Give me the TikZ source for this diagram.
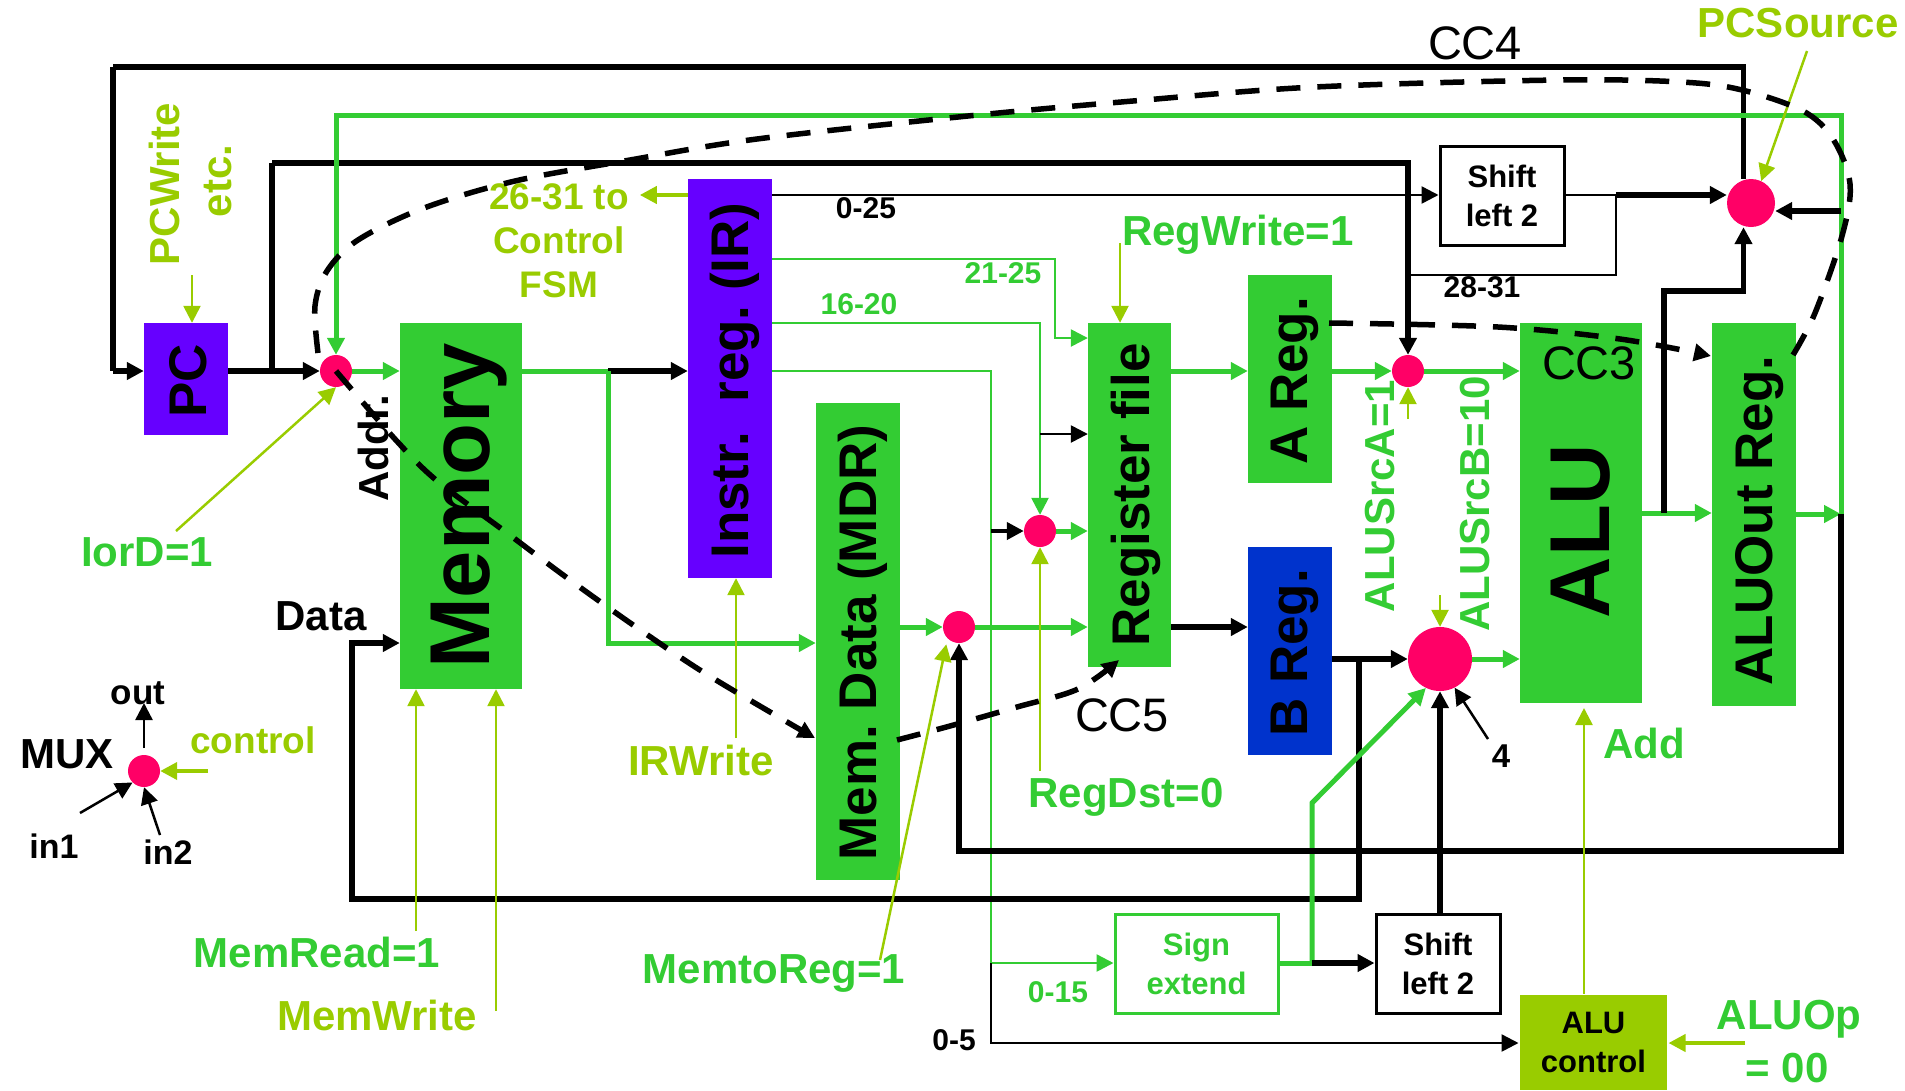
\documentclass[tikz,border=0pt]{standalone}
\usepackage{fontspec}
\setmainfont{Liberation Sans}
\usepackage{xcolor}
\usepackage{graphicx}
\usepackage{tikz}
\usetikzlibrary{arrows.meta}

\definecolor{dpgreen}{HTML}{33CC33}
\definecolor{dplime}{HTML}{99CC00}
\definecolor{dppurple}{HTML}{6600FF}
\definecolor{dpblue}{HTML}{0033CC}
\definecolor{dppink}{HTML}{FF0066}

\newcommand{\vtext}[3]{\kern#1pt\rotatebox{90}{#3\kern#2pt}}

\tikzset{
    box/.style={rectangle, inner sep=0pt, font=\bfseries\fontsize{53}{53}\selectfont},
    bigbox/.style={box, font=\bfseries\fontsize{85}{85}\selectfont},
    smallbox/.style={rectangle, inner sep=0pt, align=center, line width=3pt, font=\bfseries\fontsize{31}{39}\selectfont},
    muxnode/.style={circle, fill=dppink, inner sep=0pt, minimum size=32pt},
    lbl/.style={inner sep=0pt, align=center, font=\bfseries\fontsize{42}{42}\selectfont},
    greenlbl/.style={lbl, text=dpgreen},
    limelbl/.style={lbl, text=dplime},
    tiny/.style={lbl, font=\bfseries\fontsize{30}{30}\selectfont},
    cclbl/.style={inner sep=0pt, font=\fontsize{47}{47}\selectfont},
    blackw/.style={draw=black, line width=5.5pt},
    blackm/.style={draw=black, line width=4pt},
    blackt/.style={draw=black, line width=2.5pt},
    greenw/.style={draw=dpgreen, line width=5pt},
    greent/.style={draw=dpgreen, line width=2.5pt},
    limet/.style={draw=dplime, line width=2.5pt},
    limew/.style={draw=dplime, line width=4pt},
    dashw/.style={draw=black, line width=5.5pt, dash pattern=on 24pt off 17pt}
}

\begin{document}
\begin{tikzpicture}[x=1pt, y=-1pt, >={Triangle[length=17pt,width=17pt]}]
    \useasboundingbox (0,0) rectangle (1905,1090);

    \node [box, fill=dppurple, minimum width=84pt, minimum height=112pt] (pc) at (186,379) {\vtext{5}{4}{PC}};
    \node [bigbox, fill=dpgreen, minimum width=122pt, minimum height=366pt] (memory) at (461,506) {\vtext{16}{0}{Memory}};
    \node [box, fill=dppurple, minimum width=84pt, minimum height=399pt] (ir) at (730,378.5) {\vtext{10}{4}{Instr.\ \ reg.\ (IR)}};
    \node [box, fill=dpgreen, minimum width=84pt, minimum height=477pt] (mdr) at (858,641.5) {\vtext{10}{2}{Mem.\ Data (MDR)}};
    \node [box, fill=dpgreen, minimum width=83pt, minimum height=344pt] (regfile) at (1129.5,495) {\vtext{12}{0}{Register file}};
    \node [box, fill=dpgreen, minimum width=84pt, minimum height=208pt] (areg) at (1290,379) {\vtext{10}{4}{A Reg.}};
    \node [box, fill=dpblue, minimum width=84pt, minimum height=208pt] (breg) at (1290,651) {\vtext{10}{4}{B Reg.}};
    \node [bigbox, fill=dpgreen, minimum width=122pt, minimum height=380pt] (alu) at (1581,513) {\vtext{0}{36}{ALU}};
    \node [box, fill=dpgreen, minimum width=84pt, minimum height=383pt] (aluout) at (1754,514.5) {\vtext{12}{12}{ALUOut Reg.}};

    \node [smallbox, draw=black, fill=white, minimum width=124pt, minimum height=99pt] (shifttop) at (1502,195.5) {Shift\\left 2};
    \node [smallbox, draw=black, fill=white, minimum width=124pt, minimum height=99pt] (shiftlow) at (1438,963.5) {Shift\\left 2};
    \node [smallbox, draw=dpgreen, text=dpgreen, minimum width=163pt, minimum height=99pt] (signext) at (1196.5,963.5) {Sign\\extend};
    \node [smallbox, fill=dplime, minimum width=147pt, minimum height=95pt] (aluctrl) at (1593.5,1042.5) {ALU\\control};

    \node [muxnode] (muxaddr) at (336,371) {};
    \node [muxnode] (muxmdr) at (959,627) {};
    \node [muxnode] (muxdst) at (1040,531) {};
    \node [muxnode] (muxa) at (1408,371) {};
    \node [muxnode, minimum size=64pt] (muxb) at (1440,659) {};
    \node [muxnode, minimum size=48pt] (muxpc) at (1751,203) {};
    \node [muxnode] (muxkey) at (144,771) {};

    \coordinate (pcloop) at (113,67);
    \coordinate (aluloop) at (1841,115);
    \coordinate (pcbranch) at (272,163);
    \coordinate (memjoin) at (608,371);
    \coordinate (memdown) at (608,643);
    \coordinate (irtop) at (772,195);
    \coordinate (irmid) at (772,259);
    \coordinate (irdst) at (772,323);
    \coordinate (irlow) at (772,371);
    \coordinate (wire2125) at (1055,259);
    \coordinate (regin) at (1055,338);
    \coordinate (trunklow) at (991,371);
    \coordinate (trunksign) at (991,963);
    \coordinate (trunkctrl) at (991,1043);
    \coordinate (dsttap) at (1040,434);
    \coordinate (shiftjoin) at (1616,195);
    \coordinate (wire2831) at (1616,275);
    \coordinate (aluoutjoin) at (1841,514);
    \coordinate (alubottom) at (1841,851);
    \coordinate (alutap) at (1664,513);
    \coordinate (aluup) at (1664,291);
    \coordinate (loopb) at (1359,899);
    \coordinate (loopdata) at (352,899);
    \coordinate (datain) at (352,643);
    \coordinate (signout) at (1312,963);
    \coordinate (signup) at (1312,803);
    \coordinate (alupc) at (1841,211);
    \coordinate (pcdrop) at (1743.5,67);

    \draw [blackw] (pcloop) -- (pcdrop) -- (pcdrop |- muxpc.north);
    \draw [blackw] (pcloop) -- (pcloop |- muxaddr);
    \draw [blackw, ->] (pcloop |- muxaddr) -- (pc.west |- muxaddr);
    \draw [blackw, ->] (pc.east |- muxaddr) -- (muxaddr.west);
    \draw [blackw] (pcbranch |- muxaddr) -- (pcbranch);
    \draw [blackw, ->] (pcbranch) -- (pcbranch -| muxa) -- (muxa.north);
    \draw [greenw, ->] (aluoutjoin) -- (aluloop) -- (aluloop -| muxaddr) -- (muxaddr.north);
    \draw [greenw, ->] (muxaddr.east) -- (memory.west |- muxaddr);
    \draw [greenw] (memory.east |- muxaddr) -- (memjoin);
    \draw [blackw, ->] (memjoin) -- (ir.west |- memjoin);
    \draw [greenw, ->] (memjoin) -- (memdown) -- (mdr.west |- memdown);

    \draw [blackt, ->] (irtop) -- (shifttop.west |- irtop);
    \draw [blackt] (shifttop.east |- shiftjoin) -- (shiftjoin) -- (wire2831) -- (wire2831 -| muxa);
    \draw [blackw, ->] (shiftjoin) -- (muxpc.west |- shiftjoin);
    \draw [limew, ->] (ir.west |- irtop) -- ++(-48,0);
    \draw [greent, ->] (irmid) -- (wire2125) -- (regin) -- (regfile.west |- regin);
    \draw [greent, ->] (irdst) -- (irdst -| muxdst) -- (muxdst.north);
    \draw [blackt, ->] (dsttap) -- (regfile.west |- dsttap);
    \draw [greent] (irlow) -- (trunklow) -- (trunksign);
    \draw [greent, ->] (trunksign) -- (signext.west |- trunksign);
    \draw [blackt, ->] (trunksign) -- (trunkctrl) -- (aluctrl.west |- trunkctrl);
    \draw [blackm, ->] (trunklow |- muxdst) -- (muxdst.west);
    \draw [greenw, ->] (muxdst.east) -- (regfile.west |- muxdst);

    \draw [greenw, ->] (mdr.east |- muxmdr) -- (muxmdr.west);
    \draw [greenw, ->] (muxmdr.east) -- (regfile.west |- muxmdr);
    \draw [blackw, ->] (regfile.east |- muxmdr) -- (breg.west |- muxmdr);
    \draw [greenw, ->] (regfile.east |- muxa) -- (areg.west |- muxa);
    \draw [greenw, ->] (areg.east |- muxa) -- (muxa.west);
    \draw [greenw, ->] (muxa.east) -- (alu.west |- muxa);
    \draw [blackw, ->] (breg.east |- muxb) -- (muxb.west);
    \draw [blackw, ->] (loopb |- muxb) -- (loopb) -- (loopdata) -- (datain) -- (memory.west |- datain);
    \draw [greenw, ->] (muxb.east) -- (alu.west |- muxb);
    \draw [blackw, ->] (shiftlow.north -| muxb) -- (muxb.south);
    \draw [greenw] (signext.east |- signout) -- (signout);
    \draw [greenw, ->] (signout) -- (signup) -- (muxb.244);
    \draw [blackw, ->] (signout) -- (shiftlow.west |- signout);

    \draw [greenw, ->] (alu.east |- alutap) -- (aluout.west |- alutap);
    \draw [blackw, ->] (alutap) -- (aluup) -- (aluup -| pcdrop) -- (pcdrop |- muxpc.south);
    \draw [greenw, ->] (aluout.east |- aluoutjoin) -- (aluoutjoin);
    \draw [blackw, ->] (aluoutjoin) -- (alubottom) -- (alubottom -| muxmdr) -- (muxmdr.south);
    \draw [blackw, ->] (alupc) -- (alupc -| muxpc.east);

    \node [limelbl, rotate=90] (pcwrite) at (164,184) {PCWrite};
    \node [limelbl, rotate=90] (etc) at (218,181) {etc.};
    \node [lbl, rotate=90] (addr) at (373,448) {Addr.};
    \node [lbl, anchor=center] (datalbl) at (321,616) {Data};
    \node [limelbl, font=\bfseries\fontsize{37}{44}\selectfont] (fsm) at (559,241) {26-31 to\\Control\\FSM};
    \node [greenlbl] (iord) at (147,552) {IorD=1};
    \node [lbl] (muxlbl) at (67,754) {MUX};
    \node [lbl, font=\bfseries\fontsize{35}{35}\selectfont] (outlbl) at (138,693) {out};
    \node [lbl, font=\bfseries\fontsize{34}{34}\selectfont] (inone) at (54,846) {in1};
    \node [lbl, font=\bfseries\fontsize{34}{34}\selectfont] (intwo) at (168,852) {in2};
    \node [limelbl, font=\bfseries\fontsize{37}{37}\selectfont] (controllbl) at (253,740) {control};
    \node [greenlbl] (memread) at (317,952) {MemRead=1};
    \node [limelbl] (memwrite) at (377,1015) {MemWrite};
    \node [limelbl] (irwrite) at (701,760) {IRWrite};
    \node [greenlbl] (memtoreg) at (774,973) {MemtoReg=1};
    \node [greenlbl] (regdst) at (1126,797) {RegDst=0};
    \node [greenlbl] (regwrite) at (1238,235) {RegWrite=1};
    \node [greenlbl, rotate=90] (srca) at (1380,496) {ALUSrcA=1};
    \node [greenlbl, rotate=90] (srcb) at (1475,504) {ALUSrcB=10};
    \node [greenlbl] (addlbl) at (1644,743) {Add};
    \node [lbl, font=\bfseries\fontsize{33}{33}\selectfont] (four) at (1501,756) {4};
    \node [greenlbl] (aluop) at (1789,1019) {ALUOp};
    \node [greenlbl] (aluopval) at (1787,1068) {= 00};
    \node [limelbl] (pcsource) at (1798,23) {PCSource};
    \node [cclbl] (ccfour) at (1475,43) {CC4};
    \node [cclbl] (ccthree) at (1589,363) {CC3};
    \node [cclbl] (ccfive) at (1122,715) {CC5};
    \node [tiny] (bitsa) at (866,208) {0-25};
    \node [tiny, text=dpgreen] (bitsb) at (1003,273) {21-25};
    \node [tiny, text=dpgreen] (bitsc) at (859,304) {16-20};
    \node [tiny] (bitsd) at (1482,287) {28-31};
    \node [tiny, text=dpgreen] (bitse) at (1058,992) {0-15};
    \node [tiny] (bitsf) at (954,1040) {0-5};

    \coordinate (pcwritetip) at (192,275);
    \coordinate (iordtail) at (176,531);
    \coordinate (srcatail) at (1408,419);
    \coordinate (srcbtail) at (1440,595);
    \coordinate (regwritetail) at (1120,243);
    \coordinate (pcsourcetail) at (1807,51);
    \coordinate (fourtail) at (1488,739);
    \coordinate (aluoptail) at (1745,1043);
    \coordinate (memreadtail) at (416,931);
    \coordinate (memwritetail) at (496,1011);
    \coordinate (irwritetail) at (736,738);
    \coordinate (memtoregtail) at (880,960);
    \coordinate (regdsttail) at (1040,771);
    \coordinate (outtail) at (144,748);
    \coordinate (outtip) at (144,703);
    \coordinate (controltail) at (208,771);
    \coordinate (inonetail) at (80,813);
    \coordinate (intwotail) at (160,835);
    \coordinate (alusel) at (1584,708);
    \coordinate (dashpc) at (1793,355);
    \coordinate (dashaddr) at (318,353);
    \coordinate (dashmem) at (815,738);
    \coordinate (dashmdr) at (897,740);
    \coordinate (dashreg) at (1119,660);
    \coordinate (dasha) at (1329,323);
    \coordinate (dashout) at (1711,356);

    \draw [limet, ->] (pcwritetip) -- (pc.north -| pcwritetip);
    \draw [limet, ->] (iordtail) -- (muxaddr.south);
    \draw [limet, ->] (memreadtail) -- (memory.south -| memreadtail);
    \draw [limet, ->] (memwritetail) -- (memory.south -| memwritetail);
    \draw [limet, ->] (irwritetail) -- (ir.south -| irwritetail);
    \draw [limet, ->, shorten >=6pt] (memtoregtail) -- (muxmdr.south west);
    \draw [limet, ->] (regdsttail) -- (muxdst.south);
    \draw [limet, ->] (regwritetail) -- (regfile.north -| regwritetail);
    \draw [limet, ->] (srcatail) -- (muxa.south);
    \draw [limet, ->] (srcbtail) -- (muxb.north);
    \draw [limet, ->] (pcsourcetail) -- (muxpc.65);
    \draw [limet, ->] (aluctrl.north -| alusel) -- (alusel);
    \draw [limew, ->] (aluoptail) -- (aluctrl.east |- aluoptail);
    \draw [blackt, ->] (fourtail) -- (muxb.297);
    \draw [blackt, ->] (outtail) -- (outtip);
    \draw [limew, ->] (controltail) -- (muxkey.east);
    \draw [blackt, ->] (inonetail) -- (muxkey.225);
    \draw [blackt, ->] (intwotail) -- (muxkey.south);

    \draw [dashw] plot [smooth, tension=0.55] coordinates {(dashpc) (1815,313) (1842,236) (1850,184) (1833,139) (1803,111) (1742,90) (1681,82) (1559,80) (1315,87) (1133,101) (968,116) (757,139) (630,160) (515,181) (424,208) (358,240) (327,271) (315,306) (dashaddr)};
    \draw [dashw, ->] plot [smooth, tension=0.55] coordinates {(muxaddr) (394,438) (436,480) (503,530) (570,580) (636,627) (703,672) (782,719) (dashmem)};
    \draw [dashw, ->] plot [smooth, tension=0.55] coordinates {(dashmdr) (950,726) (1017,707) (1078,689) (dashreg)};
    \draw [dashw, ->] plot [smooth, tension=0.55] coordinates {(dasha) (1498,327) (1620,339) (dashout)};
\end{tikzpicture}
\end{document}
